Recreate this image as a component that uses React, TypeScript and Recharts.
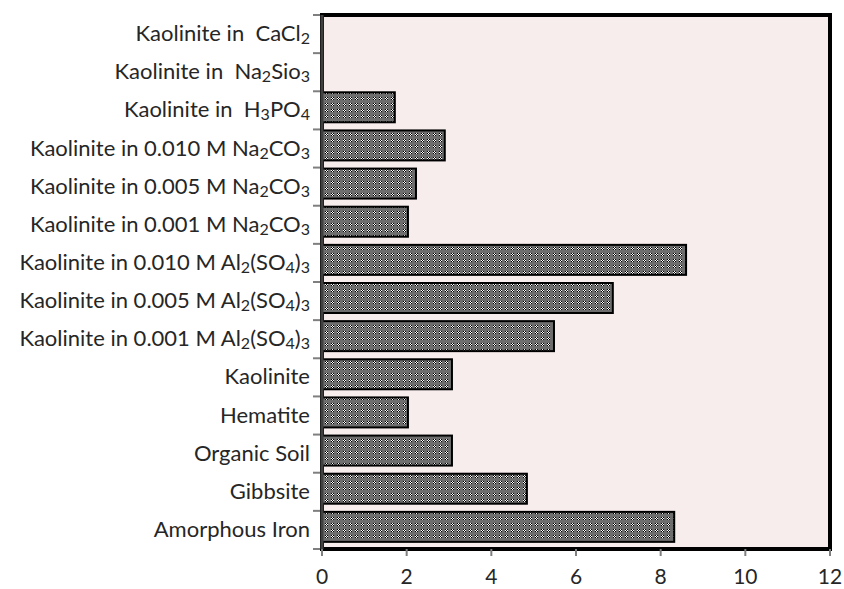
import React from 'react';
import { BarChart, Bar, XAxis, YAxis, CartesianGrid, ReferenceArea } from 'recharts';

// "_" marks the next digit as subscript
const categories = [
  'Kaolinite in  CaCl_2',
  'Kaolinite in  Na_2Sio_3',
  'Kaolinite in  H_3PO_4',
  'Kaolinite in 0.010 M Na_2CO_3',
  'Kaolinite in 0.005 M Na_2CO_3',
  'Kaolinite in 0.001 M Na_2CO_3',
  'Kaolinite in 0.010 M Al_2(SO_4)_3',
  'Kaolinite in 0.005 M Al_2(SO_4)_3',
  'Kaolinite in 0.001 M Al_2(SO_4)_3',
  'Kaolinite',
  'Hematite',
  'Organic Soil',
  'Gibbsite',
  'Amorphous Iron',
];

const values = [0, 0, 1.72, 2.9, 2.22, 2.03, 8.6, 6.87, 5.48, 3.07, 2.03, 3.07, 4.84, 8.32];

const xTicks = [0, 2, 4, 6, 8, 10, 12];

const data = categories.map((name, i) => ({ name, value: values[i] }));

const FONT = 'Lato, "Open Sans", sans-serif';

const splitLabel = (label: string) => {
  const parts: { text: string; sub: boolean }[] = [];
  let buf = '';
  for (let i = 0; i < label.length; i++) {
    if (label[i] === '_') {
      if (buf) parts.push({ text: buf, sub: false });
      buf = '';
      parts.push({ text: label[i + 1], sub: true });
      i++;
    } else {
      buf += label[i];
    }
  }
  if (buf) parts.push({ text: buf, sub: false });
  return parts;
};

const CategoryTick = (props: any) => {
  const { x, y, payload, index } = props;
  const band = 534 / categories.length;
  const parts = splitLabel(String(payload.value));
  let shifted = false;
  return (
    <g>
      <line x1={x - 1} x2={x + 6} y1={y - band / 2} y2={y - band / 2} stroke="#7f7f7f" strokeWidth={2} />
      {index === categories.length - 1 && (
        <line x1={x - 1} x2={x + 6} y1={y + band / 2} y2={y + band / 2} stroke="#7f7f7f" strokeWidth={2} />
      )}
      <text x={x - 4} y={y + 7} textAnchor="end" fontSize={22} fill="#262626" fontFamily={FONT} style={{ whiteSpace: 'pre' }}>
        {parts.map((p, k) => {
          let dy = 0;
          if (p.sub && !shifted) { dy = 3; shifted = true; }
          else if (!p.sub && shifted) { dy = -3; shifted = false; }
          return (
            <tspan key={k} dy={dy} fontSize={p.sub ? 16 : 22}>{p.text}</tspan>
          );
        })}
      </text>
    </g>
  );
};

const HatchBar = (props: any) => {
  const { x, y, width, height } = props;
  if (!width || width <= 0) return null;
  return (
    <rect x={x} y={y - 3} width={width} height={height} fill="url(#hatch)" stroke="#000" strokeWidth={2} />
  );
};

export default function App() {
  return (
    <div style={{ position: 'absolute', left: 0, top: 0, background: '#fff' }}>
      <BarChart
        width={844}
        height={589}
        data={data}
        layout="vertical"
        margin={{ top: 15, right: 14, bottom: 0, left: 0 }}
        barSize={30}
      >
        <defs>
          <pattern id="hatch" width="6" height="6" patternUnits="userSpaceOnUse">
            <rect width="6" height="6" fill="#6e6e6e" />
            <rect x="1" y="1" width="1" height="1" fill="#000" />
            <rect x="2" y="1" width="1" height="1" fill="#fff" />
            <rect x="3" y="1" width="1" height="1" fill="#000" />
            <rect x="1" y="2" width="1" height="1" fill="#fff" />
            <rect x="2" y="2" width="1" height="1" fill="#000" />
            <rect x="3" y="2" width="1" height="1" fill="#fff" />
            <rect x="1" y="3" width="1" height="1" fill="#000" />
            <rect x="2" y="3" width="1" height="1" fill="#fff" />
            <rect x="3" y="3" width="1" height="1" fill="#000" />
          </pattern>
        </defs>
        <CartesianGrid horizontal={false} vertical={false} fill="#f8eded" />
        <XAxis
          type="number"
          domain={[0, 12]}
          ticks={xTicks}
          interval={0}
          height={40}
          axisLine={{ stroke: '#000', strokeWidth: 2 }}
          tickLine={{ stroke: '#7f7f7f', strokeWidth: 2 }}
          tickSize={7}
          tick={{ fontSize: 21, fill: '#262626', fontFamily: FONT }}
          tickMargin={13}
        />
        <YAxis
          type="category"
          dataKey="name"
          width={322}
          interval={0}
          axisLine={{ stroke: '#404040', strokeWidth: 3 }}
          tickLine={false}
          tick={<CategoryTick />}
        />
        <ReferenceArea x1={0} x2={12} fill="none" stroke="#000" strokeWidth={4} ifOverflow="visible" />
        <Bar dataKey="value" shape={<HatchBar />} isAnimationActive={false} />
      </BarChart>
    </div>
  );
}
